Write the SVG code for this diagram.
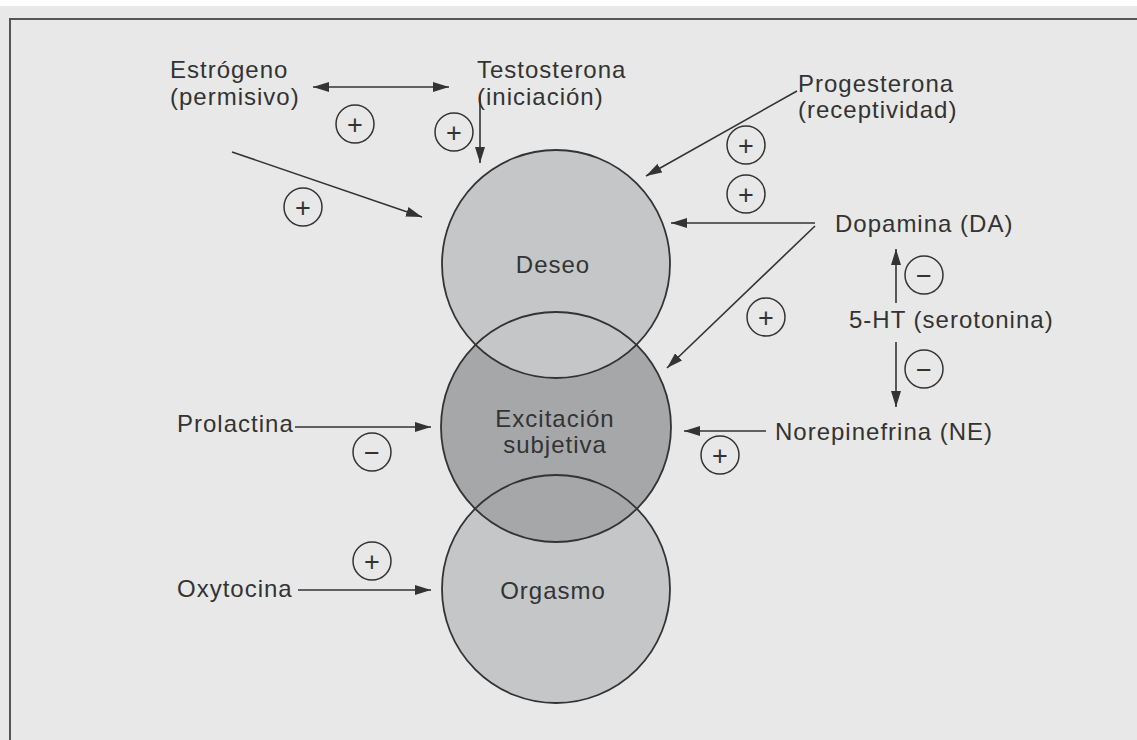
<svg xmlns="http://www.w3.org/2000/svg" width="1137" height="740" viewBox="0 0 1137 740">
<style>
.t{font-family:"Liberation Sans",Arial,sans-serif;font-size:24px;fill:#333;letter-spacing:1px}
.c{text-anchor:middle}
.ln{stroke:#333;stroke-width:1.6;fill:none}
.sg circle{fill:none;stroke:#333;stroke-width:1.5}
.sg text{font-family:"Liberation Sans",Arial,sans-serif;font-size:27px;fill:#333;text-anchor:middle}
.ring{fill:none;stroke:#333;stroke-width:1.8}
</style>
<defs>
<marker id="ah" viewBox="0 0 16 10" refX="16" refY="5" markerWidth="16" markerHeight="10" markerUnits="userSpaceOnUse" orient="auto-start-reverse">
<path d="M0,0 L16,5 L0,10 z" fill="#333"/>
</marker>
</defs>
<rect x="0" y="0" width="1137" height="740" fill="#ffffff"/>
<rect x="0" y="6" width="1137" height="734" fill="#e8e8e8"/>
<path d="M10,740 V19 H1137" fill="none" stroke="#555" stroke-width="2"/>

<g id="circles">
<circle cx="556" cy="589" r="114" fill="#c5c6c8"/>
<circle cx="556" cy="427" r="115" fill="#a6a7a9"/>
<circle cx="556" cy="264" r="114" fill="#c5c6c8"/>
<circle class="ring" cx="556" cy="589" r="114"/>
<circle class="ring" cx="556" cy="427" r="115"/>
<circle class="ring" cx="556" cy="264" r="114"/>
</g>
<g id="deseo"><text class="t c" x="553" y="273">Deseo</text></g>
<g id="excitacion"><text class="t c" x="555" y="427">Excitación</text><text class="t c" x="555" y="453">subjetiva</text></g>
<g id="orgasmo"><text class="t c" x="553" y="599">Orgasmo</text></g>

<g id="estrogeno"><text class="t" x="170" y="78">Estrógeno</text><text class="t" x="170" y="105">(permisivo)</text></g>
<g id="testosterona"><text class="t" x="477" y="78">Testosterona</text><text class="t" x="477" y="105">(iniciación)</text></g>
<g id="progesterona"><text class="t" x="798" y="92">Progesterona</text><text class="t" x="798" y="118">(receptividad)</text></g>
<g id="dopamina"><text class="t" x="835" y="232">Dopamina (DA)</text></g>
<g id="serotonina"><text class="t" x="849" y="328">5-HT (serotonina)</text></g>
<g id="norepinefrina"><text class="t" x="775" y="440">Norepinefrina (NE)</text></g>
<g id="prolactina"><text class="t" x="177" y="432">Prolactina</text></g>
<g id="oxytocina"><text class="t" x="177" y="597">Oxytocina</text></g>

<g id="connectors">
<line class="ln" x1="313" y1="87" x2="449" y2="87" marker-start="url(#ah)" marker-end="url(#ah)"/>
<line class="ln" x1="232" y1="152" x2="422" y2="217" marker-end="url(#ah)"/>
<line class="ln" x1="480" y1="96" x2="480" y2="163" marker-end="url(#ah)"/>
<line class="ln" x1="797" y1="91" x2="646" y2="176" marker-end="url(#ah)"/>
<line class="ln" x1="815" y1="223" x2="671" y2="223" marker-end="url(#ah)"/>
<line class="ln" x1="815" y1="226" x2="667" y2="368" marker-end="url(#ah)"/>
<line class="ln" x1="896" y1="303" x2="896" y2="249" marker-end="url(#ah)"/>
<line class="ln" x1="896" y1="342" x2="896" y2="407" marker-end="url(#ah)"/>
<line class="ln" x1="766" y1="431" x2="684" y2="431" marker-end="url(#ah)"/>
<line class="ln" x1="295" y1="427" x2="431" y2="427" marker-end="url(#ah)"/>
<line class="ln" x1="298" y1="590" x2="431" y2="590" marker-end="url(#ah)"/>
</g>

<g id="signs" class="sg">
<circle cx="355" cy="124" r="19"/><text x="355" y="133.5">+</text>
<circle cx="303" cy="207" r="19"/><text x="303" y="216.5">+</text>
<circle cx="454" cy="132" r="19"/><text x="454" y="141.5">+</text>
<circle cx="746" cy="145" r="19"/><text x="746" y="154.5">+</text>
<circle cx="746" cy="194" r="19"/><text x="746" y="203.5">+</text>
<circle cx="766" cy="317" r="19"/><text x="766" y="326.5">+</text>
<circle cx="924" cy="275" r="19"/><text x="924" y="284.5">−</text>
<circle cx="924" cy="369" r="19"/><text x="924" y="378.5">−</text>
<circle cx="720" cy="455" r="19"/><text x="720" y="464.5">+</text>
<circle cx="372" cy="452" r="19"/><text x="372" y="461.5">−</text>
<circle cx="372" cy="561" r="19"/><text x="372" y="570.5">+</text>
</g>
</svg>
